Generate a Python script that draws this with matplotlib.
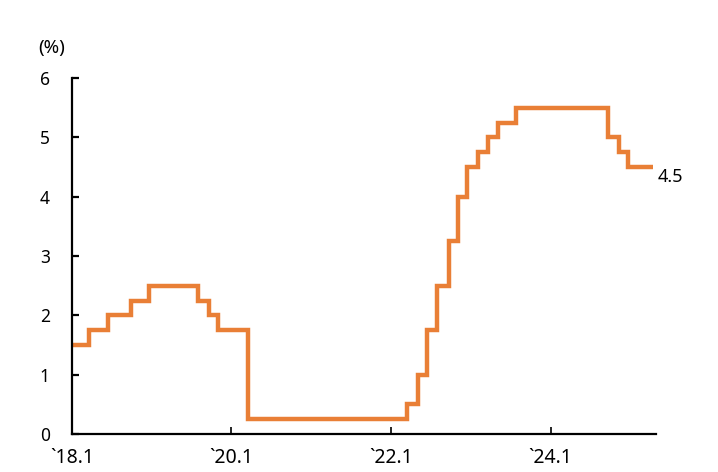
import numpy as np
import matplotlib.pyplot as plt

plt.rcParams.update(
    {
        "font.family": "Noto Sans",
        "font.size": 12.5,
    }
)

LINE_COLOR = "#E97F36"

# rate change dates and the new level (%), last entry = end of series
change_dates = np.array(
    [
        "2018-01-01", "2018-03-22", "2018-06-14", "2018-09-27", "2018-12-20",
        "2019-08-01", "2019-09-19", "2019-10-31", "2020-03-16",
        "2022-03-17", "2022-05-05", "2022-06-16", "2022-07-28", "2022-09-22",
        "2022-11-03", "2022-12-15", "2023-02-02", "2023-03-23", "2023-05-04",
        "2023-07-27", "2024-09-19", "2024-11-08", "2024-12-19", "2025-04-15",
    ],
    dtype="datetime64[D]",
)
rates = [
    1.5, 1.75, 2.0, 2.25, 2.5,
    2.25, 2.0, 1.75, 0.25,
    0.5, 1.0, 1.75, 2.5, 3.25,
    4.0, 4.5, 4.75, 5.0, 5.25,
    5.5, 5.0, 4.75, 4.5, 4.5,
]

tick_dates = np.array(["2018-01-01", "2020-01-01", "2022-01-01", "2024-01-01"], dtype="datetime64[D]")
tick_labels = ["`18.1", "`20.1", "`22.1", "`24.1"]

fig = plt.figure(figsize=(7.18, 4.72), dpi=100)
ax = fig.add_axes([72 / 718, 38 / 472, 584 / 718, 356 / 472])

ax.plot(change_dates, rates, drawstyle="steps-post", color=LINE_COLOR, lw=3.2,
        solid_capstyle="butt", solid_joinstyle="miter")

ax.set_xlim(np.datetime64("2018-01-01"), np.datetime64("2025-04-28"))
ax.set_ylim(0, 6)
ax.set_yticks(range(7))
ax.set_xticks(tick_dates, tick_labels)

for s in ["top", "right"]:
    ax.spines[s].set_visible(False)
for s in ["left", "bottom"]:
    ax.spines[s].set_linewidth(1.6)

ax.tick_params(axis="y", direction="in", length=5, width=1.6, pad=16)
ax.tick_params(axis="x", direction="in", length=5, width=1.2, pad=10, labelsize=14)

ax.text(-0.034, 1.06, "(%)", transform=ax.transAxes, ha="center", va="bottom", fontsize=13.5)

ax.annotate(f"{rates[-1]}", xy=(change_dates[-1], rates[-1]), xytext=(3, -1),
            textcoords="offset points", ha="left", va="top", fontsize=13)

fig.savefig("out.png", dpi=100)
